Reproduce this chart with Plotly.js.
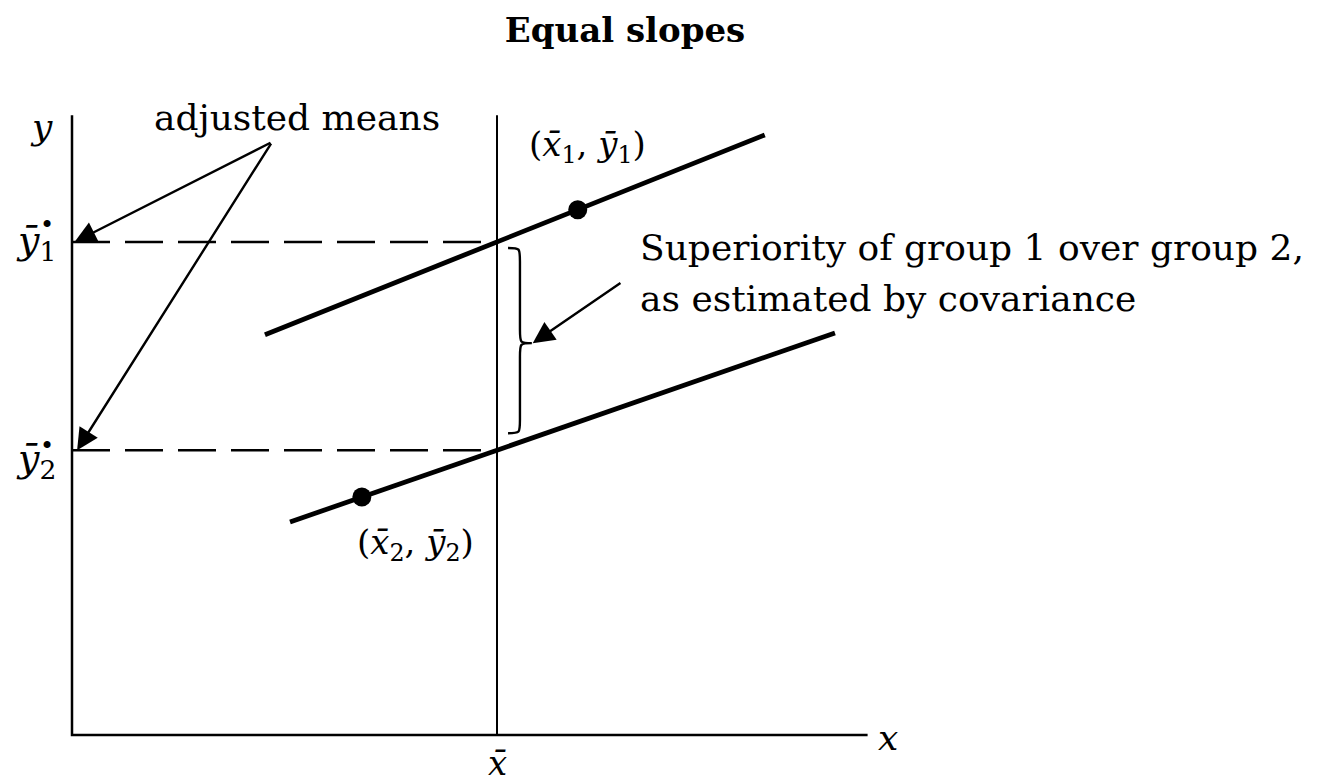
<!DOCTYPE html>
<html>
<head>
<meta charset="utf-8">
<script src="https://cdn.plot.ly/plotly-3.0.1.min.js"></script>
<style>
  html, body { margin: 0; padding: 0; background: #fff; }
  #chart { width: 1332px; height: 784px; }
</style>
</head>
<body>
<div id="chart"></div>
<script>
// Analysis of covariance with equal slopes: two parallel within-group
// regression lines, their group means and the adjusted means at the grand mean.

// grand mean of the covariate
const xGrand = 5.0;
// extent of the drawn axes
const axisXEnd = 9.36;
const axisYEnd = 7.29;

// regression line of group 1 (upper) and group 2 (lower)
const line1X = [2.27, 8.15];
const line1Y = [4.71, 7.06];
const line2X = [2.565, 8.976];
const line2Y = [2.506, 4.73];

// group means (x̄1, ȳ1) and (x̄2, ȳ2)
const meanX = [5.95, 3.41];
const meanY = [6.18, 2.80];

// adjusted means ȳ1•, ȳ2• (height of each line at the grand mean)
const adjMean = [5.80, 3.35];

// brace spanning the difference between the adjusted means
const braceTop = 5.73, braceMid = 4.61, braceBot = 3.55;
const braceEndX = 5.13, braceSpineX = 5.27, braceTipX = 5.41;

const serif = 'DejaVu Serif, Liberation Serif, serif';
const ink = '#000';

const traces = [
  // axes
  { x: [0, 0, axisXEnd], y: [axisYEnd, 0, 0], mode: 'lines',
    line: { color: ink, width: 2.5 } },
  // vertical at x̄
  { x: [xGrand, xGrand], y: [0, axisYEnd], mode: 'lines',
    line: { color: ink, width: 2 } },
  // dashed guides from the adjusted means to the y axis
  { x: [0, xGrand], y: [adjMean[0], adjMean[0]], mode: 'lines',
    line: { color: ink, width: 2.5, dash: '38px,15px' } },
  { x: [0, xGrand], y: [adjMean[1], adjMean[1]], mode: 'lines',
    line: { color: ink, width: 2.5, dash: '38px,15px' } },
  // regression lines
  { x: line1X, y: line1Y, mode: 'lines', line: { color: ink, width: 4.8 } },
  { x: line2X, y: line2Y, mode: 'lines', line: { color: ink, width: 4.8 } },
  // group means
  { x: meanX, y: meanY, mode: 'markers',
    marker: { color: ink, size: 19 } }
];

const r = 0.16;
const bracePath =
  `M ${braceEndX},${braceTop} ` +
  `C ${braceSpineX},${braceTop} ${braceSpineX},${braceTop} ${braceSpineX},${braceTop - r} ` +
  `L ${braceSpineX},${braceMid + r} ` +
  `C ${braceSpineX},${braceMid} ${braceSpineX},${braceMid} ${braceTipX},${braceMid} ` +
  `C ${braceSpineX},${braceMid} ${braceSpineX},${braceMid} ${braceSpineX},${braceMid - r} ` +
  `L ${braceSpineX},${braceBot + r} ` +
  `C ${braceSpineX},${braceBot} ${braceSpineX},${braceBot} ${braceEndX},${braceBot}`;

function arrow(xHead, yHead, xTail, yTail) {
  return {
    x: xHead, y: yHead, ax: xTail, ay: yTail,
    xref: 'x', yref: 'y', axref: 'x', ayref: 'y',
    text: '', showarrow: true, arrowhead: 2, arrowsize: 1.8,
    arrowwidth: 2.4, arrowcolor: ink, standoff: 0, startstandoff: 0
  };
}

function label(x, y, text, size, xanchor) {
  return {
    x: x, y: y, xref: 'x', yref: 'y', text: text, showarrow: false,
    xanchor: xanchor || 'center', yanchor: 'middle',
    font: { family: serif, size: size, color: ink }
  };
}

// tail shared by the two "adjusted means" pointers
const pointerTail = [2.353, 6.976];

const annotations = [
  arrow(0.03, adjMean[0], pointerTail[0], pointerTail[1]),
  arrow(0.06, adjMean[1], pointerTail[0], pointerTail[1]),
  arrow(braceTipX + 0.01, braceMid, 6.47, 5.33),

  label(2.65, 7.26, 'adjusted means', 36),
  label(-0.36, 7.16, '<i>y</i>', 36),
  label(9.6, -0.03, '<i>x</i>', 36),
  label(xGrand, -0.33, '<i>x̄</i>', 34),
  label(-0.17, adjMean[0], '<i>ȳ</i><sub>1</sub>', 38, 'right'),
  label(-0.17, adjMean[1] - 0.12, '<i>ȳ</i><sub>2</sub>', 38, 'right'),
  label(-0.29, adjMean[0] + 0.2, '•', 24),
  label(-0.29, adjMean[1] + 0.05, '•', 24),
  label(6.06, 6.92, '(<i>x̄</i><sub>1</sub>, <i>ȳ</i><sub>1</sub>)', 34),
  label(4.04, 2.24, '(<i>x̄</i><sub>2</sub>, <i>ȳ</i><sub>2</sub>)', 34),
  label(6.66, 5.73, 'Superiority of group 1 over group 2,', 36, 'left'),
  label(6.66, 5.14, 'as estimated by covariance', 36, 'left')
];

const layout = {
  width: 1332, height: 784,
  margin: { l: 0, r: 0, t: 0, b: 0 },
  paper_bgcolor: '#fff', plot_bgcolor: '#fff',
  showlegend: false,
  title: {
    text: '<b>Equal slopes</b>',
    x: 625 / 1332, xanchor: 'center',
    y: 1 - 30 / 784, yanchor: 'middle',
    font: { family: serif, size: 34, color: ink }
  },
  xaxis: { range: [-72 / 85, (1332 - 72) / 85], visible: false, fixedrange: true },
  yaxis: { range: [-(784 - 735) / 85, 735 / 85], visible: false, fixedrange: true },
  shapes: [
    { type: 'path', path: bracePath, xref: 'x', yref: 'y',
      line: { color: ink, width: 2.4 } }
  ],
  annotations: annotations
};

Plotly.newPlot('chart', traces, layout, { displayModeBar: false, staticPlot: true });
</script>
</body>
</html>
